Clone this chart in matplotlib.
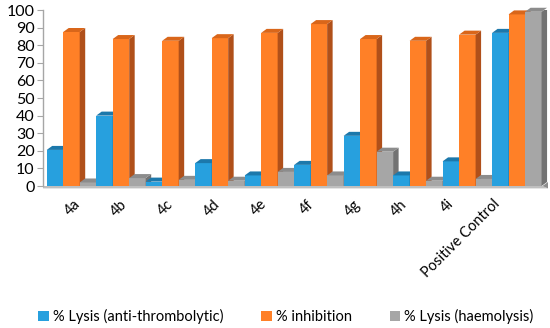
import numpy as np
import matplotlib
matplotlib.use('Agg')
import matplotlib.pyplot as plt
from matplotlib.patches import Polygon, Patch

plt.rcParams['font.family'] = ['Lato', 'DejaVu Sans']

categories = ['4a', '4b', '4c', '4d', '4e', '4f', '4g', '4h', '4i', 'Positive Control']
lysis_thrombo = [20.5, 40, 2.5, 13, 6, 12, 28.5, 6, 14, 87]
inhibition = [87.5, 83.5, 82.5, 84, 87, 92, 83.5, 82.5, 86, 97.5]
lysis_haemo = [2, 4.5, 3.5, 3, 8, 6, 19.5, 3, 4, 99]
series_names = ['% Lysis (anti-thrombolytic)', '% inhibition', '% Lysis (haemolysis)']

# front, top, side colours for each series
colors = [('#27A0DE', '#1C78AB', '#1B6E9C'),
          ('#FF8027', '#D9661A', '#B0501A'),
          ('#A6A6A6', '#8C8C8C', '#727272')]

fig = plt.figure(figsize=(5.5, 3.28), dpi=100)
ax = fig.add_axes([43 / 550, 142 / 328, 505 / 550, 176 / 328])

xmin, xmax = -0.575, 9.63
ax.set_xlim(xmin, xmax)
ax.set_ylim(0, 100)

width = 1 / 3
dx = 5.5 * (xmax - xmin) / 505   # depth offset, in data units
dy = 4.0 * 100 / 176

x = np.arange(len(categories))
data = [lysis_thrombo, inhibition, lysis_haemo]

# floor
floor = Polygon([(xmin, 0), (xmax - dx, 0), (xmax, -dy * 0.6), (xmin, -dy * 0.6)],
                closed=True, facecolor='#BFBFBF', edgecolor='none', clip_on=False, zorder=1)
ax.add_patch(floor)
ax.add_patch(Polygon([(xmax - dx, 0), (xmax, dy), (xmax, -dy * 0.6)], closed=True,
                     facecolor='#8C8C8C', edgecolor='none', clip_on=False, zorder=1))

z = 2
for i in range(len(categories)):
    for s in range(3):
        v = data[s][i]
        left = x[i] + (s - 1.5) * width
        right = left + width
        front, top, side = colors[s]
        ax.bar(left, v, width=width, align='edge', color=front, zorder=z)
        ax.add_patch(Polygon([(right, 0), (right + dx, dy), (right + dx, v + dy), (right, v)],
                             closed=True, facecolor=side, edgecolor='none', zorder=z))
        ax.add_patch(Polygon([(left, v), (left + dx, v + dy), (right + dx, v + dy), (right, v)],
                             closed=True, facecolor=top, edgecolor='none', zorder=z, clip_on=False))
        z += 1

for sp in ['top', 'right', 'bottom']:
    ax.spines[sp].set_visible(False)
ax.spines['left'].set_color('#A6A6A6')
ax.spines['left'].set_linewidth(1.0)

ax.set_yticks(range(0, 101, 10))
ax.tick_params(axis='y', length=4, color='#A6A6A6', labelsize=11.5, pad=2)
# category labels sit on the projected front edge, a bit tighter than the bars
ax.set_xticks(x * 0.943 + 0.03)
ax.set_xticklabels(categories, rotation=45, ha='right', rotation_mode='anchor', fontsize=10.5)
ax.tick_params(axis='x', length=0, pad=8)

handles = [Patch(facecolor=c[0]) for c in colors]
fig.legend(handles, series_names, loc='center', bbox_to_anchor=(0.52, 0.036), ncol=3,
           frameon=False, fontsize=10.5, handlelength=0.7, handleheight=0.7,
           handletextpad=0.3, columnspacing=2.6)

fig.savefig('out.png', dpi=100)
